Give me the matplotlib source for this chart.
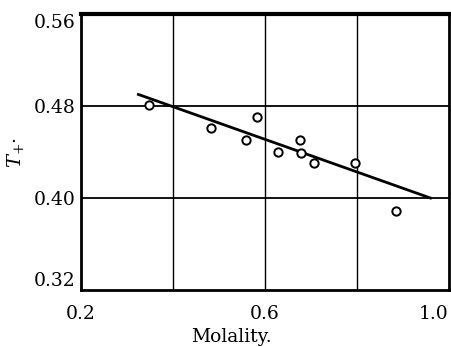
import matplotlib
matplotlib.use('Agg')
import matplotlib.pyplot as plt

molality = [0.347, 0.483, 0.558, 0.583, 0.629, 0.676, 0.679, 0.707, 0.797, 0.886]
t_plus = [0.481, 0.461, 0.450, 0.470, 0.440, 0.450, 0.439, 0.430, 0.430, 0.389]

# fitted straight line end points
fit_x = [0.325, 0.960]
fit_y = [0.490, 0.400]

xticks = [0.2, 0.6, 1.0]
xticklabels = ['0.2', '0.6', '1.0']
yticks = [0.32, 0.40, 0.48, 0.56]
yticklabels = ['0.32', '0.40', '0.48', '0.56']
xgrid = [0.4, 0.6, 0.8]
ygrid = [0.40, 0.48]

plt.rcParams['font.family'] = 'DejaVu Serif'
plt.rcParams['mathtext.fontset'] = 'dejavuserif'

fig = plt.figure(figsize=(4.52, 3.47), dpi=100)
ax = fig.add_axes([0.179, 0.164, 0.814, 0.796])

for gx in xgrid:
    ax.axvline(gx, color='k', linewidth=1.0, zorder=1)
for gy in ygrid:
    ax.axhline(gy, color='k', linewidth=1.3, zorder=1)

ax.plot(fit_x, fit_y, color='k', linewidth=2.0, zorder=2)
ax.plot(molality, t_plus, 'o', markersize=6, markerfacecolor='white',
        markeredgecolor='k', markeredgewidth=1.4, zorder=3)

ax.set_xlim(0.2, 1.0)
ax.set_ylim(0.32, 0.56)
ax.set_xticks(xticks)
ax.set_xticklabels(xticklabels, fontsize=13.5)
ax.set_yticks(yticks)
ax.set_yticklabels(yticklabels, fontsize=13.5)
ax.tick_params(length=0)
ax.tick_params(axis='x', pad=11)
ax.tick_params(axis='y', pad=4)

xl = ax.get_xticklabels()
xl[-1].set_ha('right')
yl = ax.get_yticklabels()
yl[0].set_va('bottom')
yl[-1].set_va('top')

for side in ['left', 'bottom', 'right']:
    ax.spines[side].set_linewidth(2.0)
ax.spines['top'].set_linewidth(3.0)

ax.set_xlabel('Molality.', fontsize=13.5)
ax.xaxis.set_label_coords(0.41, -0.138)
ax.set_ylabel('$T_{+}$\u00b7', fontsize=14)
ax.yaxis.set_label_coords(-0.15, 0.5)

fig.savefig('out.png', dpi=100)
